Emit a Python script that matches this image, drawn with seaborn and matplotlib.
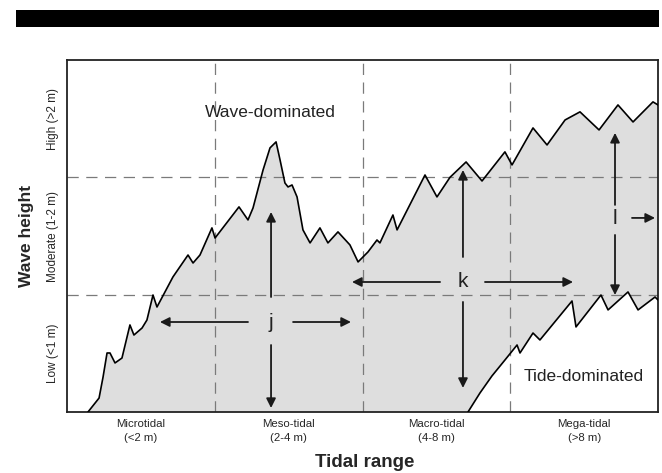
import numpy as np
import matplotlib
matplotlib.use("Agg")
import matplotlib.pyplot as plt
from matplotlib.patches import Rectangle
import seaborn as sns

# tidal range classes on x (0..4), wave height classes on y (0..3)
tide_labels = ["Microtidal\n(<2 m)", "Meso-tidal\n(2-4 m)", "Macro-tidal\n(4-8 m)", "Mega-tidal\n(>8 m)"]
wave_labels = ["Low (<1 m)", "Moderate (1-2 m)", "High (>2 m)"]

# upper boundary (wave-dominated limit)
upper_x = [0.142, 0.217, 0.244, 0.271, 0.291, 0.325, 0.372, 0.426, 0.453, 0.508, 0.541, 0.582,
           0.609, 0.717, 0.819, 0.853, 0.900, 0.981, 1.002, 1.164, 1.225, 1.259, 1.327, 1.374,
           1.415, 1.442, 1.475, 1.496, 1.523, 1.557, 1.597, 1.645, 1.712, 1.766, 1.834, 1.915,
           1.970, 2.037, 2.098, 2.118, 2.206, 2.234, 2.423, 2.504, 2.592, 2.701, 2.809, 2.964,
           3.012, 3.154, 3.249, 3.371, 3.472, 3.601, 3.729, 3.831, 3.966, 4.000]
upper_y = [0.000, 0.119, 0.298, 0.503, 0.503, 0.418, 0.460, 0.742, 0.656, 0.716, 0.784, 0.997,
           0.895, 1.151, 1.338, 1.270, 1.338, 1.569, 1.483, 1.748, 1.637, 1.739, 2.063, 2.251,
           2.302, 2.148, 1.952, 1.918, 1.935, 1.833, 1.552, 1.441, 1.569, 1.441, 1.535, 1.424,
           1.279, 1.364, 1.466, 1.441, 1.679, 1.552, 2.020, 1.833, 2.000, 2.131, 1.969, 2.217,
           2.106, 2.421, 2.276, 2.489, 2.558, 2.404, 2.617, 2.472, 2.643, 2.617]

# lower boundary (tide-dominated limit)
lower_x = [2.714, 2.795, 2.876, 2.964, 3.046, 3.066, 3.154, 3.201, 3.418, 3.445, 3.614, 3.662,
           3.797, 3.865, 3.980, 4.000]
lower_y = [0.000, 0.162, 0.307, 0.443, 0.571, 0.503, 0.673, 0.614, 0.946, 0.725, 0.997, 0.870,
           1.023, 0.870, 0.980, 0.955]

sns.set_theme(style="white")
plt.rcParams["font.family"] = ["Liberation Sans", "DejaVu Sans"]

fig = plt.figure(figsize=(6.62, 4.73), dpi=100)
ax = fig.add_axes([67 / 662, 61 / 473, 591 / 662, 352 / 473])

# black banner on top
fig.add_artist(Rectangle((16 / 662, 446 / 473), 643 / 662, 17 / 473,
                         transform=fig.transFigure, color="black", lw=0))

# shaded mixed-energy field
poly_x = upper_x + lower_x[::-1]
poly_y = upper_y + lower_y[::-1]
ax.fill(poly_x, poly_y, color="#dedede", lw=0, zorder=1)

# class dividers
for xv in [1, 2, 3]:
    ax.axvline(xv, color="#7a7a7a", lw=0.9, ls=(0, (9, 6)), zorder=2)
for yv in [1, 2]:
    ax.axhline(yv, color="#7a7a7a", lw=0.9, ls=(0, (9, 6)), zorder=2)

sns.lineplot(x=upper_x, y=upper_y, sort=False, estimator=None, color="black", lw=1.2, ax=ax, zorder=3)
sns.lineplot(x=lower_x, y=lower_y, sort=False, estimator=None, color="black", lw=1.2, ax=ax, zorder=3)


def arrow(x0, y0, x1, y1):
    ax.annotate("", xy=(x1, y1), xytext=(x0, y0),
                arrowprops=dict(arrowstyle="-|>", color="#1a1a1a", lw=1.3,
                                mutation_scale=14, shrinkA=0, shrinkB=0), zorder=4)


# j
ax.text(1.381, 0.767, "j", fontsize=15, ha="center", va="center", color="#222222")
arrow(1.381, 0.980, 1.381, 1.705)
arrow(1.381, 0.571, 1.381, 0.034)
arrow(1.225, 0.767, 0.629, 0.767)
arrow(1.530, 0.767, 1.922, 0.767)
# k
ax.text(2.680, 1.108, "k", fontsize=15, ha="center", va="center", color="#222222")
arrow(2.525, 1.108, 1.929, 1.108)
arrow(2.829, 1.108, 3.425, 1.108)
arrow(2.680, 1.321, 2.680, 2.063)
arrow(2.680, 0.938, 2.680, 0.205)
# l
ax.text(3.709, 1.645, "l", fontsize=15, ha="center", va="center", color="#222222")
arrow(3.709, 1.765, 3.709, 2.379)
arrow(3.709, 1.509, 3.709, 0.997)
arrow(3.824, 1.654, 3.980, 1.654)

ax.text(1.375, 2.55, "Wave-dominated", fontsize=12.5, ha="center", va="center", color="#222222")
ax.text(3.495, 0.30, "Tide-dominated", fontsize=12.5, ha="center", va="center", color="#222222")

ax.set_xlim(0, 4)
ax.set_ylim(0, 3)
ax.set_xticks([0.5, 1.5, 2.5, 3.5])
ax.set_xticklabels(tide_labels, fontsize=8.2, linespacing=1.45)
ax.set_yticks([0.5, 1.5, 2.5])
ax.set_yticklabels(wave_labels, fontsize=8.5, rotation=90, va="center")
ax.tick_params(axis="x", length=0, pad=5)
ax.tick_params(axis="y", length=0, pad=6)
ax.set_xlabel("Tidal range", fontsize=13.5, fontweight="bold")
ax.set_ylabel("Wave height", fontsize=12.5, fontweight="bold")
ax.xaxis.set_label_coords(0.504, -0.118)
ax.yaxis.set_label_coords(-0.055, 0.5)
for sp in ax.spines.values():
    sp.set_color("#222222")
    sp.set_linewidth(1.3)

fig.savefig("out.png", dpi=100)
